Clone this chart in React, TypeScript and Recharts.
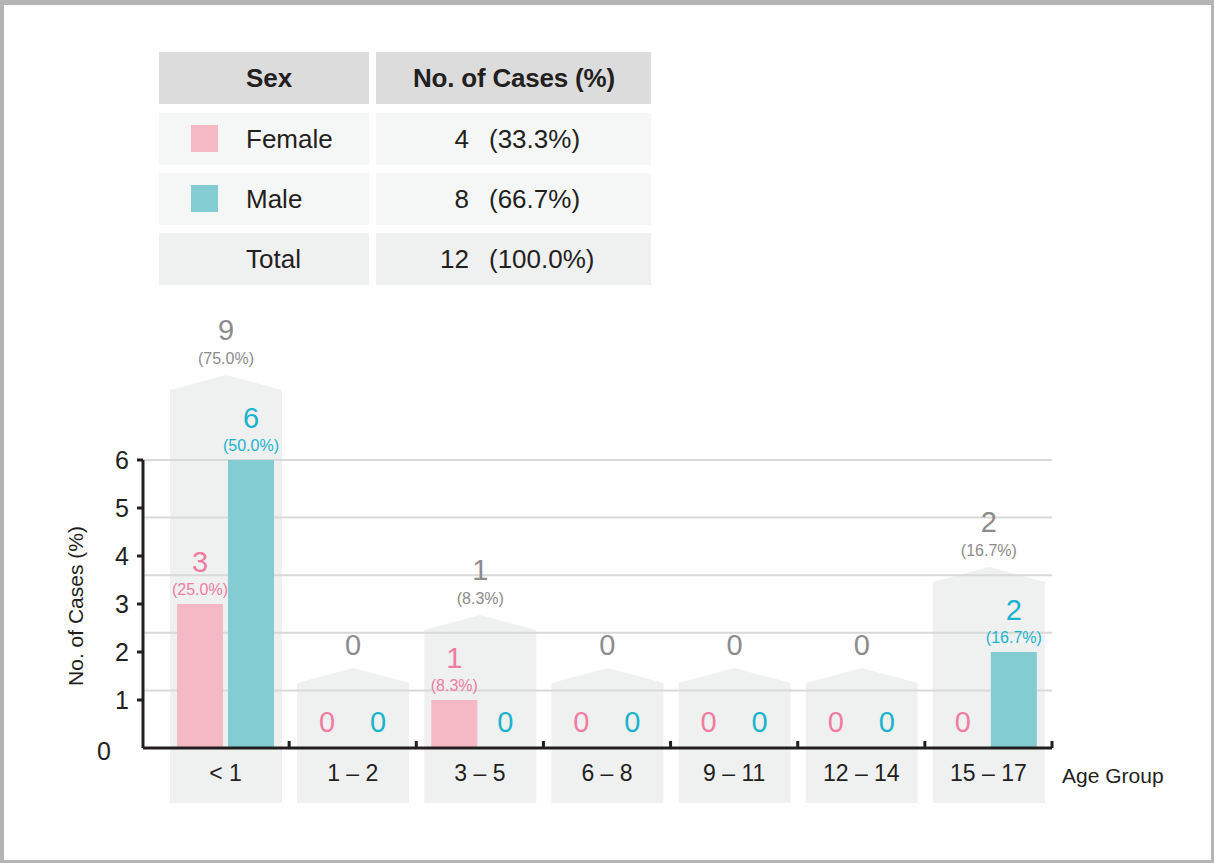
import { Bar, BarChart, CartesianGrid, LabelList, XAxis, YAxis } from "recharts";

const ageGroups = ["< 1", "1 – 2", "3 – 5", "6 – 8", "9 – 11", "12 – 14", "15 – 17"];
const femaleCases = [3, 0, 1, 0, 0, 0, 0];
const maleCases = [6, 0, 0, 0, 0, 0, 2];
const totalCases = [9, 0, 1, 0, 0, 0, 2];

const sexLabels = ["Female", "Male"];
const sexCounts = [4, 8];
const grandTotal = 12;

const yTicks = [0, 1, 2, 3, 4, 5, 6];
const gridTicks = [0, 1, 2, 3, 4, 5];

const FONT = '"Liberation Sans", Arial, Helvetica, sans-serif';
const INK = "#231f20";
const PINK = "#f5b9c5";
const TEAL = "#83ccd2";
const PINK_TEXT = "#f07ca0";
const TEAL_TEXT = "#19b4cc";
const GREY_TEXT = "#8c8c8c";
const HOUSE = "#eff0f0";

const W = 1214;
const H = 863;
const PLOT_TOP = 460;
const PLOT_BOTTOM = 748;
const PLOT_LEFT = 143;
const PLOT_RIGHT = 1052;
const PAD_LEFT = 19;
const BAND = (PLOT_RIGHT - PLOT_LEFT - PAD_LEFT) / ageGroups.length;

const data = ageGroups.map((age, i) => ({
  age,
  female: femaleCases[i],
  male: maleCases[i],
  total: totalCases[i],
  peak: Math.max(femaleCases[i], maleCases[i]),
}));

const pct = (v: number) => `(${((v / grandTotal) * 100).toFixed(1)}%)`;

function houseTop(y: number, peak: number) {
  const shoulder = y - (peak > 0 ? 70 : 65);
  return { shoulder, tip: shoulder - 15 };
}

const House = (props: any) => {
  const { x, y, width, height, payload } = props;
  const bottom = y + height + 55;
  const { shoulder, tip } = houseTop(y, payload.peak);
  return (
    <path
      d={`M${x},${bottom} L${x},${shoulder} L${x + width / 2},${tip} L${x + width},${shoulder} L${x + width},${bottom} Z`}
      fill={HOUSE}
    />
  );
};

const TotalLabel = (props: any) => {
  const { x, y, width, index } = props;
  const v = totalCases[index];
  const { tip } = houseTop(y, data[index].peak);
  const cx = x + width / 2;
  if (!v) {
    return (
      <text x={cx} y={tip - 23} textAnchor="middle" dominantBaseline="central" fontSize={29} fill={GREY_TEXT} fontFamily={FONT}>
        0
      </text>
    );
  }
  return (
    <g fontFamily={FONT} fill={GREY_TEXT} textAnchor="middle">
      <text x={cx} y={tip - 45} dominantBaseline="central" fontSize={29}>
        {v}
      </text>
      <text x={cx} y={tip - 17} dominantBaseline="central" fontSize={16}>
        {pct(v)}
      </text>
    </g>
  );
};

// bar + its value label, drawn together so zero-height bars still get their "0"
const makeBarShape = (key: "female" | "male", fill: string, color: string) => (props: any) => {
  const { x, y, width, height, payload } = props;
  const v = payload[key];
  const cx = x + width / 2;
  return (
    <g fontFamily={FONT} fill={color} textAnchor="middle">
      {height > 0 && <rect x={x} y={y} width={width} height={height} fill={fill} />}
      {v ? (
        <>
          <text x={cx} y={y - 42} dominantBaseline="central" fontSize={29}>
            {v}
          </text>
          <text x={cx} y={y - 15} dominantBaseline="central" fontSize={16}>
            {pct(v)}
          </text>
        </>
      ) : (
        <text x={cx} y={y - 26} dominantBaseline="central" fontSize={29}>
          0
        </text>
      )}
    </g>
  );
};

const XTick = (props: any) => {
  const { x, payload } = props;
  const bx = x + BAND / 2;
  return (
    <g>
      <text x={x} y={773} textAnchor="middle" dominantBaseline="central" fontSize={23} fill={INK} fontFamily={FONT}>
        {payload.value}
      </text>
      <line x1={bx} x2={bx} y1={PLOT_BOTTOM - 7} y2={PLOT_BOTTOM} stroke={INK} strokeWidth={3} />
    </g>
  );
};

const YTick = (props: any) => {
  const { y, payload } = props;
  const v = payload.value;
  return (
    <g>
      {v !== 0 && <line x1={PLOT_LEFT - 6} x2={PLOT_LEFT} y1={y} y2={y} stroke={INK} strokeWidth={3} />}
      <text
        x={v === 0 ? 111 : 129}
        y={v === 0 ? y + 3 : y}
        textAnchor="end"
        dominantBaseline="central"
        fontSize={25}
        fill={INK}
        fontFamily={FONT}
      >
        {v}
      </text>
    </g>
  );
};

const gridLines = ({ yAxis }: any) => {
  const s = yAxis?.scale;
  if (typeof s === "function") return gridTicks.map((t) => s(t));
  return gridTicks.map((t) => PLOT_BOTTOM - (t / 5) * (PLOT_BOTTOM - PLOT_TOP));
};

const cell = (x: number, y: number, w: number, bg: string): React.CSSProperties => ({
  position: "absolute",
  left: x,
  top: y,
  width: w,
  height: 52,
  background: bg,
});

const rowText: React.CSSProperties = {
  position: "absolute",
  top: 0,
  height: 52,
  lineHeight: "52px",
  fontSize: 26,
  color: INK,
  whiteSpace: "nowrap",
};

function SexTable() {
  const rows = [
    ...sexLabels.map((label, i) => ({ label, count: sexCounts[i], swatch: i === 0 ? PINK : TEAL, bg: "#f5f7f6" })),
    { label: "Total", count: grandTotal, swatch: "", bg: "#eff0f0" },
  ];
  return (
    <div style={{ fontFamily: FONT }}>
      <div style={cell(159, 52, 210, "#dcdcdc")}>
        <div style={{ ...rowText, left: 87, fontWeight: 700 }}>Sex</div>
      </div>
      <div style={cell(376, 52, 275, "#dcdcdc")}>
        <div style={{ ...rowText, left: 37, fontWeight: 700, letterSpacing: -0.2 }}>No. of Cases (%)</div>
      </div>
      {rows.map((r, i) => {
        const top = 113 + i * 60;
        return (
          <div key={r.label}>
            <div style={cell(159, top, 210, r.bg)}>
              {r.swatch && (
                <div style={{ position: "absolute", left: 32, top: 12, width: 27, height: 27, background: r.swatch }} />
              )}
              <div style={{ ...rowText, left: 87 }}>{r.label}</div>
            </div>
            <div style={cell(376, top, 275, r.bg)}>
              <div style={{ ...rowText, right: 182, textAlign: "right" }}>{r.count}</div>
              <div style={{ ...rowText, left: 113 }}>{pct(r.count)}</div>
            </div>
          </div>
        );
      })}
    </div>
  );
}

export default function App() {
  return (
    <div
      style={{
        position: "absolute",
        left: 0,
        top: 0,
        width: W,
        height: H,
        background: "#fff",
        boxSizing: "border-box",
        borderStyle: "solid",
        borderColor: "#b5b5b5",
        borderWidth: "5px 3px 3px 4px",
        overflow: "hidden",
      }}
    >
      <div style={{ position: "absolute", left: -4, top: -5 }}>
        <BarChart
          width={W}
          height={H}
          data={data}
          margin={{ top: PLOT_TOP, right: W - PLOT_RIGHT, bottom: 0, left: 0 }}
          barGap={5}
        >
          <XAxis
            dataKey="age"
            height={H - PLOT_BOTTOM}
            padding={{ left: PAD_LEFT, right: 0 }}
            axisLine={{ stroke: INK, strokeWidth: 3 }}
            tickLine={false}
            tick={<XTick />}
            interval={0}
            label={{
              content: () => (
                <text x={1062} y={775} dominantBaseline="central" fontSize={21} fill={INK} fontFamily={FONT}>
                  Age Group
                </text>
              ),
            }}
          />
          <XAxis xAxisId="bg" dataKey="age" hide padding={{ left: PAD_LEFT, right: 0 }} />
          <YAxis
            width={PLOT_LEFT}
            domain={[0, 6]}
            ticks={yTicks}
            axisLine={{ stroke: INK, strokeWidth: 3 }}
            tickLine={false}
            tick={<YTick />}
            label={{
              content: () => (
                <text
                  x={75}
                  y={606}
                  transform="rotate(-90 75 606)"
                  textAnchor="middle"
                  dominantBaseline="central"
                  fontSize={21}
                  fill={INK}
                  fontFamily={FONT}
                >
                  No. of Cases (%)
                </text>
              ),
            }}
          />
          <YAxis yAxisId="grid" hide domain={[0, 5]} ticks={gridTicks} />
          <Bar
            xAxisId="bg"
            dataKey="peak"
            barSize={112}
            shape={<House />}
            isAnimationActive={false}
            zIndex={-200}
          >
            <LabelList dataKey="total" content={<TotalLabel />} />
          </Bar>
          <CartesianGrid
            yAxisId="grid"
            vertical={false}
            stroke="#d9d9d9"
            strokeWidth={2}
            horizontalCoordinatesGenerator={gridLines}
          />
          <Bar dataKey="female" barSize={46} isAnimationActive={false} shape={makeBarShape("female", PINK, PINK_TEXT)} />
          <Bar dataKey="male" barSize={46} isAnimationActive={false} shape={makeBarShape("male", TEAL, TEAL_TEXT)} />
        </BarChart>
      </div>
      <div style={{ position: "absolute", left: -4, top: -5 }}>
        <SexTable />
      </div>
    </div>
  );
}
